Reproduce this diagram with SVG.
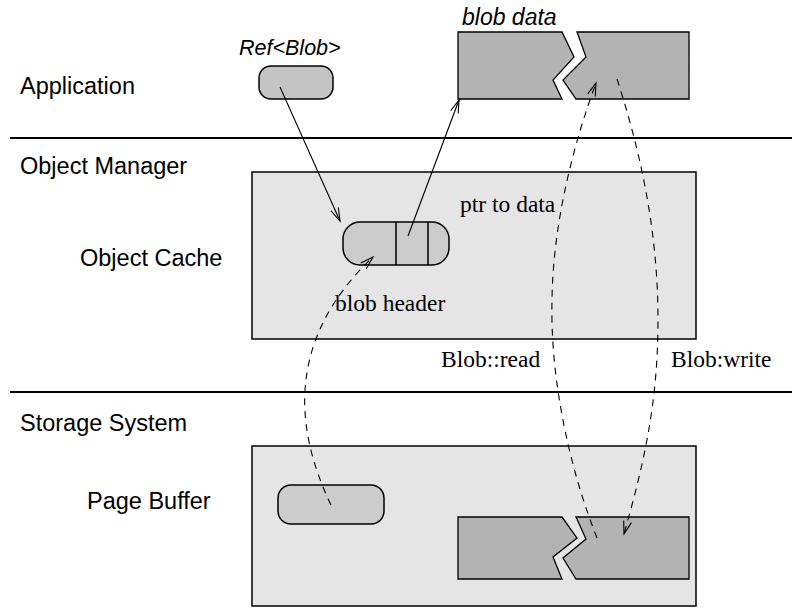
<svg xmlns="http://www.w3.org/2000/svg" width="792" height="611" viewBox="0 0 792 611">
<style>
.sans{font-family:"Liberation Sans",Arial,sans-serif;font-size:23.5px;fill:#000}
.ital{font-family:"Liberation Sans",Arial,sans-serif;font-style:italic;fill:#000}
.serif{font-family:"Liberation Serif","Times New Roman",serif;font-size:23.5px;fill:#000}
.box{fill:#e5e5e5;stroke:#000;stroke-width:1.5}
.pill{fill:#cccccc;stroke:#000;stroke-width:1.5}
.data{fill:#b3b3b3;stroke:#000;stroke-width:1.3;stroke-linejoin:miter}
.div{stroke:#000;stroke-width:2}
.conn{fill:none;stroke:#000;stroke-width:1.1}
.dash{stroke-dasharray:7 6}
</style>
<defs>
<marker id="arr" markerUnits="userSpaceOnUse" viewBox="-14 -6 16 12" refX="0" refY="0" markerWidth="16" markerHeight="12" orient="auto" overflow="visible">
<path d="M-13,-4 L0,0 L-13,4" fill="none" stroke="#000" stroke-width="1.1" stroke-dasharray="none"/>
</marker>
</defs>

<g id="dividers">
<line class="div" x1="10" y1="138" x2="792" y2="138"/>
<line class="div" x1="10" y1="392" x2="792" y2="392"/>
</g>

<g id="layer-labels">
<text class="sans" x="20" y="94">Application</text>
<text class="sans" x="20" y="174">Object Manager</text>
<text class="sans" x="20" y="431">Storage System</text>
</g>

<g id="object-cache">
<rect class="box" x="252" y="172" width="444" height="167"/>
<text class="sans" x="80" y="266">Object Cache</text>
</g>

<g id="page-buffer">
<rect class="box" x="252" y="446" width="444" height="160"/>
<text class="sans" x="87" y="509">Page Buffer</text>
</g>

<g id="ref-blob">
<rect class="pill" x="259" y="66" width="74" height="33" rx="12" ry="12" style="fill:#c4c4c4"/>
<text class="ital" x="239" y="55" font-size="21.5">Ref&lt;Blob&gt;</text>
</g>

<g id="blob-data-app">
<polygon class="data" points="458,32 562,32 574,57 553,80 562,99 458,99"/>
<polygon class="data" points="577,32 689,32 689,99 576,99 563,80 586,57"/>
<text class="ital" x="462" y="25" font-size="23">blob data</text>
</g>

<g id="blob-header">
<rect class="pill" x="343" y="222" width="106" height="43" rx="17" ry="17"/>
<line x1="396" y1="222" x2="396" y2="265" stroke="#000" stroke-width="1.5"/>
<line x1="428" y1="222" x2="428" y2="265" stroke="#000" stroke-width="1.5"/>
<text class="serif" x="335" y="311">blob header</text>
</g>

<g id="page-pill">
<rect class="pill" x="278" y="485" width="106" height="39" rx="13" ry="13"/>
</g>

<g id="blob-data-page">
<polygon class="data" points="458,517 562,517 577,538 553,557 562,579 458,579"/>
<polygon class="data" points="576,517 689,517 689,579 576,579 563,558 586,539"/>
</g>

<g id="connectors">
<path class="conn" d="M280,87 L340,221" marker-end="url(#arr)"/>
<path class="conn" d="M408,236 L459,100" marker-end="url(#arr)"/>
<path class="conn dash" d="M331,505 C295,430 285,340 373,257" marker-end="url(#arr)"/>
<path class="conn dash" d="M597,538 C570,470 550,380 552,300 C553,220 575,140 596,83" marker-end="url(#arr)"/>
<path class="conn dash" d="M617,79 C640,150 658,230 658,320 C658,400 645,460 624,534" marker-end="url(#arr)"/>
</g>

<g id="connector-labels">
<text class="serif" x="460" y="212">ptr to data</text>
<text class="serif" x="441" y="367">Blob::read</text>
<text class="serif" x="671" y="367">Blob:write</text>
</g>
</svg>
